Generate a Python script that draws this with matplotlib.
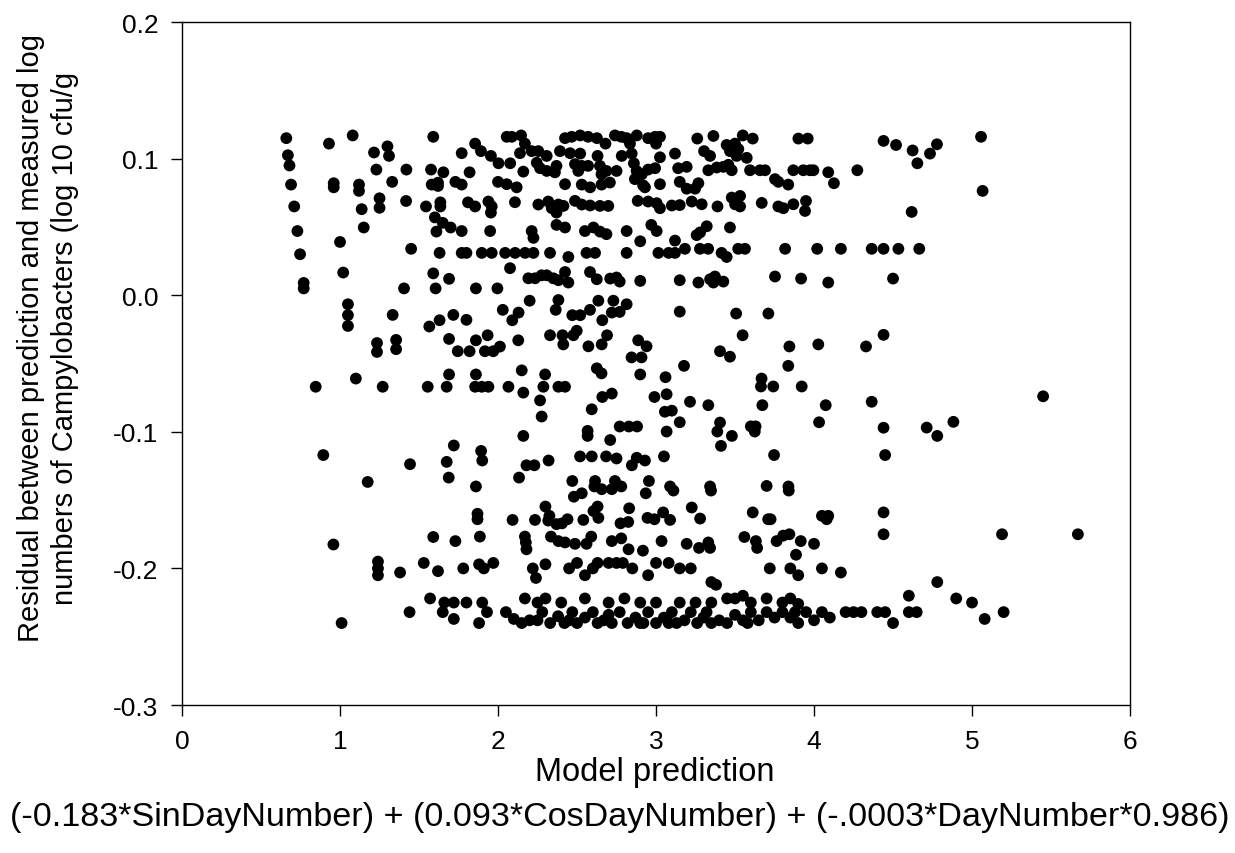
import matplotlib
matplotlib.use("Agg")
import matplotlib.pyplot as plt
from matplotlib.ticker import FormatStrFormatter

plt.rcParams["font.family"] = ["Liberation Sans", "DejaVu Sans"]
plt.rcParams["axes.unicode_minus"] = False

# residual clusters, grouped roughly by residual level (prediction, residual)
band_top = [
    (0.66, 0.115), (0.93, 0.111), (1.08, 0.117), (1.59, 0.116), (0.67, 0.1025), (0.68, 0.095),
    (1.215, 0.1045), (1.30, 0.109), (1.31, 0.102), (1.77, 0.104), (1.855, 0.111),
    (2.055, 0.116), (2.087, 0.116), (2.146, 0.117), (2.17, 0.111), (2.424, 0.115), (2.466, 0.116),
    (2.52, 0.117), (2.57, 0.116), (2.626, 0.115), (2.68, 0.111), (2.74, 0.117), (2.78, 0.116),
    (2.814, 0.115), (2.835, 0.111), (2.878, 0.117), (2.95, 0.115), (2.994, 0.116), (3.025, 0.116),
    (3.0, 0.111), (1.892, 0.1055),
    (1.955, 0.102), (2.139, 0.104), (2.213, 0.1055), (2.255, 0.1055), (2.308, 0.102), (2.392, 0.1055),
    (2.456, 0.104), (2.52, 0.1037), (2.63, 0.102), (2.783, 0.102), (2.846, 0.1037), (3.025, 0.101),
    (3.12, 0.1037),
    (3.261, 0.1147), (3.363, 0.1166), (3.549, 0.117), (3.612, 0.1147), (3.901, 0.1147), (3.96, 0.1147),
    (4.44, 0.113), (3.447, 0.110), (3.468, 0.1055), (3.5, 0.111), (3.521, 0.107), (3.51, 0.102),
    (3.574, 0.1006), (3.304, 0.1055), (3.342, 0.102),
    (4.519, 0.110), (4.624, 0.106), (4.654, 0.0966), (4.734, 0.1037), (4.778, 0.1105), (5.057, 0.116),
    (5.067, 0.0764), (4.618, 0.061),
]

band_upper = [
    (0.69, 0.081), (0.96, 0.082), (0.96, 0.079), (1.12, 0.081), (1.12, 0.0764), (1.23, 0.092),
    (1.33, 0.083), (1.42, 0.092), (1.576, 0.092), (1.654, 0.090), (1.58, 0.081), (1.62, 0.0824),
    (1.62, 0.080), (1.73, 0.083), (1.77, 0.081), (1.82, 0.090),
    (2.003, 0.0966), (2.077, 0.0966), (2.16, 0.0905), (2.245, 0.097), (2.266, 0.093), (2.308, 0.091),
    (2.36, 0.090), (2.37, 0.0947), (2.487, 0.096), (2.508, 0.091), (2.53, 0.0947), (2.57, 0.0947),
    (2.645, 0.0947), (2.655, 0.0886), (2.686, 0.091), (2.75, 0.091), (2.86, 0.0966), (2.877, 0.091),
    (2.91, 0.0886), (2.95, 0.092), (2.994, 0.093), (3.14, 0.093),
    (2.0, 0.083), (2.055, 0.0813), (2.118, 0.079), (2.424, 0.0813), (2.53, 0.081), (2.583, 0.079),
    (2.655, 0.081), (2.708, 0.0825), (2.866, 0.085), (2.918, 0.0805), (2.93, 0.079), (3.025, 0.0813),
    (3.15, 0.083),
    (3.194, 0.094), (3.331, 0.0915), (3.384, 0.0935), (3.426, 0.094), (3.458, 0.0955), (3.479, 0.0915),
    (3.595, 0.0915), (3.658, 0.0915), (3.69, 0.0915), (3.753, 0.085), (3.869, 0.0915), (3.932, 0.0915),
    (3.974, 0.0915), (3.996, 0.0915), (4.09, 0.090), (4.126, 0.082), (4.274, 0.0915), (3.837, 0.081),
    (3.774, 0.083), (3.194, 0.078), (3.268, 0.082), (3.247, 0.078),
]

band_mid_high = [
    (0.71, 0.065), (1.137, 0.063), (1.25, 0.071), (1.25, 0.064), (1.418, 0.069), (1.544, 0.065),
    (1.635, 0.068), (1.635, 0.065), (1.81, 0.068), (1.855, 0.065),
    (1.939, 0.0686), (1.96, 0.065), (2.107, 0.0681), (2.255, 0.0664), (2.318, 0.0686), (2.34, 0.0637),
    (2.382, 0.0664), (2.414, 0.0654), (2.487, 0.0691), (2.53, 0.0664), (2.583, 0.0657), (2.645, 0.0654),
    (2.698, 0.0654), (2.884, 0.0691), (2.95, 0.0686), (3.004, 0.0674), (3.025, 0.0637), (3.1, 0.0657),
    (3.15, 0.066), (1.955, 0.0605), (2.37, 0.0605),
    (3.226, 0.0686), (3.289, 0.0666), (3.389, 0.065), (3.479, 0.0715), (3.5, 0.0666), (3.532, 0.0727),
    (3.532, 0.065), (3.669, 0.0676), (3.774, 0.065), (3.806, 0.0637), (3.869, 0.0666), (3.949, 0.069),
    (3.943, 0.0617),
    (1.60, 0.057), (1.65, 0.053), (1.70, 0.0496), (1.61, 0.0466), (1.77, 0.047), (0.73, 0.047),
    (1.15, 0.0496), (1.00, 0.039),
    (1.95, 0.047), (2.213, 0.047), (2.224, 0.042), (2.37, 0.0515), (2.424, 0.0496), (2.55, 0.047),
    (2.604, 0.0496), (2.645, 0.0466), (2.686, 0.0447), (2.814, 0.047), (2.97, 0.0515), (3.004, 0.047),
    (2.9, 0.0395), (3.12, 0.040), (3.468, 0.0496), (3.321, 0.0505), (3.279, 0.046), (3.257, 0.044),
]

band_near_zero = [
    (1.45, 0.034), (0.747, 0.030), (1.63, 0.031), (1.77, 0.031), (1.80, 0.031),
    (1.897, 0.031), (1.96, 0.031), (2.045, 0.031), (2.108, 0.031), (2.171, 0.031), (2.224, 0.031),
    (2.329, 0.031), (2.445, 0.028), (2.56, 0.031), (2.614, 0.031), (2.814, 0.031), (3.015, 0.031),
    (3.08, 0.031), (3.12, 0.031),
    (3.183, 0.034), (3.278, 0.034), (3.33, 0.034), (3.52, 0.034), (3.563, 0.034), (3.817, 0.034),
    (4.02, 0.034), (4.17, 0.034), (4.365, 0.034), (4.44, 0.034), (4.534, 0.034), (4.666, 0.034),
    (3.415, 0.031), (3.447, 0.028),
    (1.02, 0.0166), (0.77, 0.009), (0.77, 0.005), (1.405, 0.005), (1.59, 0.016), (1.69, 0.012),
    (1.605, 0.005), (1.86, 0.005),
    (2.076, 0.0198), (2.192, 0.0124), (2.234, 0.0124), (2.276, 0.0146), (2.308, 0.0146), (2.35, 0.0124),
    (2.382, 0.011), (2.424, 0.017), (2.445, 0.0093), (2.582, 0.017), (2.625, 0.0117), (2.71, 0.0122),
    (2.75, 0.013), (2.77, 0.010), (2.9, 0.0105), (3.15, 0.011), (1.996, 0.005),
    (3.268, 0.0093), (3.342, 0.0117), (3.373, 0.0137), (3.363, 0.0093), (3.426, 0.010), (3.753, 0.0137),
    (3.918, 0.0122), (4.09, 0.0093), (4.5, 0.0122),
    (1.05, -0.0066), (1.05, -0.0146), (1.05, -0.0225), (1.333, -0.0144), (1.565, -0.0229),
    (1.63, -0.0183), (1.717, -0.0144), (1.80, -0.018),
    (2.2, -0.004), (2.03, -0.0107), (2.13, -0.0127), (2.09, -0.0183), (2.382, -0.0035), (2.365, -0.0107),
    (2.47, -0.0146), (2.52, -0.0146), (2.582, -0.0107), (2.635, -0.004), (2.66, -0.0183), (2.73, -0.004),
    (2.72, -0.0127), (2.77, -0.0122), (2.814, -0.0066), (3.15, -0.012), (3.507, -0.0134), (3.711, -0.0134),
]

band_mid_low = [
    (1.234, -0.035), (1.234, -0.0415), (1.355, -0.0327), (1.355, -0.0395), (1.69, -0.032),
    (1.745, -0.041), (1.82, -0.041), (1.86, -0.033),
    (1.934, -0.0293), (1.917, -0.041), (1.97, -0.041), (2.012, -0.0376), (2.128, -0.033),
    (2.329, -0.0293), (2.408, -0.0293), (2.413, -0.036), (2.477, -0.0293), (2.498, -0.026),
    (2.572, -0.0374), (2.656, -0.036), (2.69, -0.0293), (2.887, -0.033), (2.94, -0.0374),
    (2.845, -0.0455), (2.908, -0.0455),
    (3.548, -0.0293), (3.405, -0.041), (3.468, -0.045), (3.844, -0.0375), (4.027, -0.036),
    (4.329, -0.0375), (4.44, -0.029),
    (1.10, -0.061), (0.846, -0.067), (1.27, -0.067), (1.555, -0.067), (1.675, -0.067), (1.69, -0.058),
    (1.86, -0.058), (1.855, -0.067),
    (2.625, -0.0535), (2.655, -0.0572), (2.15, -0.055), (2.298, -0.058), (2.9, -0.058), (3.06, -0.06),
    (1.897, -0.067), (1.939, -0.067), (2.066, -0.067), (2.16, -0.0713), (2.287, -0.067), (2.382, -0.067),
    (2.424, -0.067), (2.266, -0.077), (2.66, -0.0745), (2.72, -0.072), (2.99, -0.0745), (3.067, -0.0725),
    (3.177, -0.0517), (3.837, -0.0517), (3.668, -0.061), (3.664, -0.0668), (3.742, -0.0668),
    (3.922, -0.0668), (3.215, -0.078), (4.365, -0.078), (5.45, -0.074),
    (3.331, -0.0805), (3.673, -0.0805), (4.074, -0.0805),
]

band_lower = [
    (2.593, -0.0835), (3.056, -0.0853), (3.1, -0.0845), (2.276, -0.0888), (3.15, -0.093),
    (2.77, -0.0961), (2.828, -0.0961), (2.88, -0.0961), (3.067, -0.0998), (2.567, -0.0993),
    (2.567, -0.103), (2.16, -0.103), (2.71, -0.106), (1.893, -0.114), (1.9, -0.121), (2.18, -0.1245),
    (2.23, -0.1245), (2.32, -0.121), (2.519, -0.118), (2.593, -0.118), (2.684, -0.118), (2.75, -0.1195),
    (2.847, -0.1245), (2.878, -0.119), (2.93, -0.121), (3.05, -0.118),
    (3.405, -0.0932), (3.388, -0.0998), (3.48, -0.103), (3.6, -0.096), (3.63, -0.096), (3.625, -0.0998),
    (4.032, -0.093), (4.44, -0.097), (3.411, -0.1103), (3.747, -0.117), (4.45, -0.117),
    (4.713, -0.0969), (4.78, -0.103), (4.882, -0.0927),
    (0.894, -0.117), (1.443, -0.1237), (1.72, -0.110), (1.675, -0.122),
    (1.175, -0.1367), (1.688, -0.1335), (1.86, -0.140), (1.87, -0.160), (1.87, -0.164),
    (2.133, -0.1335), (2.47, -0.136), (2.48, -0.1475), (2.53, -0.145), (2.614, -0.136), (2.61, -0.14),
    (2.656, -0.142), (2.72, -0.142), (2.74, -0.136), (2.78, -0.14), (2.955, -0.136), (2.935, -0.145),
    (3.089, -0.14), (3.11, -0.143), (2.3, -0.1547), (2.63, -0.1547), (2.604, -0.158), (2.635, -0.163),
    (2.83, -0.156), (2.092, -0.1645), (2.234, -0.1645), (2.325, -0.1615), (2.318, -0.165),
    (2.37, -0.1676), (2.405, -0.167), (2.44, -0.164), (2.54, -0.1645), (2.775, -0.167), (2.824, -0.166),
    (2.946, -0.163), (2.99, -0.164), (3.045, -0.159), (3.089, -0.1645),
    (3.342, -0.140), (3.348, -0.143), (3.7, -0.1396), (3.838, -0.14), (3.84, -0.143), (3.226, -0.1554),
    (3.279, -0.1635), (3.612, -0.159), (3.71, -0.164), (3.725, -0.164), (4.05, -0.1615), (4.09, -0.1615),
    (4.08, -0.164), (4.44, -0.159),
    (0.958, -0.1825), (1.59, -0.177), (1.73, -0.180),
    (1.885, -0.1767), (2.17, -0.1767), (2.176, -0.181), (2.18, -0.186), (2.335, -0.1767), (2.382, -0.18),
    (2.424, -0.181), (2.487, -0.182), (2.56, -0.182), (2.59, -0.1767), (2.72, -0.18), (2.78, -0.178),
    (2.826, -0.186), (2.917, -0.187), (3.035, -0.18),
    (3.194, -0.182), (3.272, -0.185), (3.331, -0.181), (3.342, -0.185), (3.559, -0.177), (3.632, -0.18),
    (3.64, -0.185), (3.763, -0.18), (3.805, -0.176), (3.844, -0.175), (3.916, -0.18), (4.0, -0.182),
    (3.886, -0.19), (4.44, -0.175), (5.19, -0.175), (5.67, -0.175),
]

band_bottom = [
    (1.24, -0.195), (1.24, -0.2), (1.24, -0.205), (1.38, -0.203), (1.53, -0.196), (1.62, -0.202),
    (1.78, -0.2), (1.88, -0.197), (1.91, -0.2), (1.97, -0.196), (2.22, -0.2), (2.24, -0.207),
    (2.3, -0.197), (2.45, -0.2), (2.5, -0.196), (2.6, -0.2), (2.63, -0.196), (2.7, -0.196),
    (2.75, -0.196), (2.79, -0.196), (2.85, -0.2), (3.0, -0.196), (3.08, -0.196), (3.15, -0.2),
    (3.22, -0.2), (3.35, -0.21), (3.38, -0.212), (3.72, -0.2), (3.85, -0.2), (3.9, -0.205),
    (4.05, -0.2), (4.17, -0.203), (4.78, -0.21), (2.55, -0.205), (2.95, -0.205),
    (1.57, -0.222), (1.66, -0.225), (1.72, -0.225), (1.8, -0.225), (1.9, -0.225), (2.17, -0.222),
    (2.25, -0.225), (2.4, -0.225), (2.55, -0.222), (2.7, -0.225), (2.8, -0.222), (3.0, -0.225),
    (3.15, -0.225), (3.25, -0.225), (3.5, -0.222), (3.55, -0.22), (3.6, -0.225), (3.8, -0.225),
    (3.85, -0.222), (3.9, -0.226), (4.6, -0.22), (4.9, -0.222), (5.0, -0.225), (2.3, -0.222),
    (2.9, -0.225), (3.35, -0.225), (3.45, -0.222), (3.7, -0.222),
    (1.01, -0.24), (1.44, -0.232), (1.65, -0.232), (1.72, -0.237), (1.88, -0.24), (1.93, -0.232),
    (2.05, -0.232), (2.1, -0.237), (2.15, -0.24), (2.2, -0.238), (2.28, -0.232), (2.33, -0.24),
    (2.38, -0.235), (2.42, -0.24), (2.47, -0.232), (2.5, -0.24), (2.55, -0.236), (2.6, -0.232),
    (2.63, -0.24), (2.67, -0.238), (2.72, -0.24), (2.77, -0.232), (2.82, -0.24), (2.87, -0.236),
    (2.92, -0.24), (2.95, -0.232), (3.0, -0.24), (3.05, -0.236), (3.1, -0.232), (3.13, -0.24),
    (3.18, -0.238), (3.22, -0.232), (3.26, -0.24), (3.3, -0.236), (3.35, -0.24), (3.4, -0.238),
    (3.45, -0.24), (3.5, -0.234), (3.55, -0.238), (3.6, -0.232), (3.65, -0.238), (3.7, -0.232),
    (3.75, -0.236), (3.8, -0.232), (3.85, -0.236), (3.9, -0.24), (3.95, -0.232), (4.0, -0.238),
    (4.05, -0.232), (4.1, -0.236), (4.2, -0.232), (4.25, -0.232), (4.3, -0.232), (4.4, -0.232),
    (4.45, -0.232), (4.5, -0.24), (4.6, -0.232), (4.65, -0.232), (5.08, -0.237), (5.2, -0.232),
    (2.25, -0.238), (2.45, -0.238), (2.7, -0.234), (2.9, -0.24), (3.08, -0.24), (3.32, -0.232),
    (3.58, -0.24), (3.88, -0.232),
]

x_ticks = [0, 1, 2, 3, 4, 5, 6]
y_ticks = [-0.3, -0.2, -0.1, 0.0, 0.1, 0.2]

points = band_top + band_upper + band_mid_high + band_near_zero + band_mid_low + band_lower + band_bottom
pred = [p[0] for p in points]
resid = [p[1] for p in points]

fig = plt.figure(figsize=(12.35, 8.54), dpi=100)
ax = fig.add_axes([0.1474, 0.1733, 0.7676, 0.7997])

ax.scatter(pred, resid, s=72, color="black", edgecolors="none", zorder=3)

ax.set_xlim(0, 6)
ax.set_ylim(-0.3, 0.2)
ax.set_xticks(x_ticks)
ax.set_yticks(y_ticks)
ax.yaxis.set_major_formatter(FormatStrFormatter("%.1f"))
ax.tick_params(direction="out", length=8, width=1, labelsize=19, pad=9)
for sp in ax.spines.values():
    sp.set_linewidth(1)

fig.text(0.039, 1 - 338 / 854,
         "Residual between prediction and measured log\nnumbers of Campylobacters (log 10 cfu/g",
         rotation=90, ha="center", va="center", multialignment="center", fontsize=21,
         linespacing=1.3)
fig.text(655 / 1235, 1 - 773 / 854, "Model prediction", ha="center", va="center", fontsize=23.5)
fig.text(620 / 1235, 1 - 818 / 854,
         "(-0.183*SinDayNumber) + (0.093*CosDayNumber) + (-.0003*DayNumber*0.986)",
         ha="center", va="center", fontsize=24.6)

fig.savefig("out.png", dpi=100)
